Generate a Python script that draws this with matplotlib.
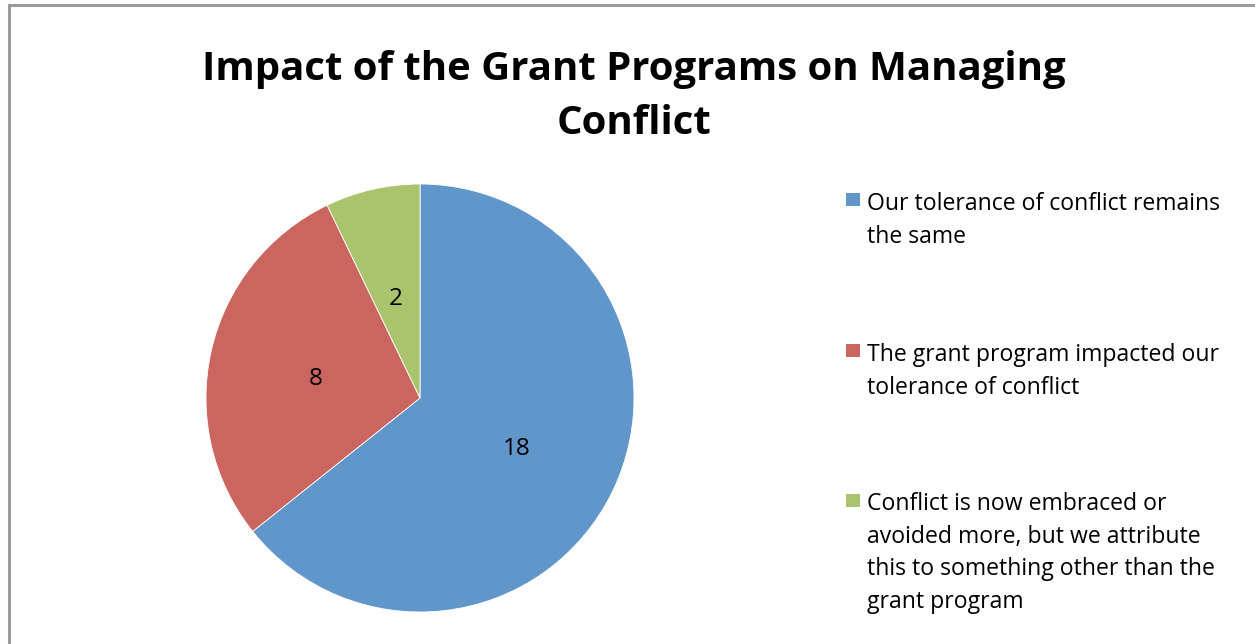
import textwrap
import matplotlib
matplotlib.use("Agg")
import matplotlib.pyplot as plt
import matplotlib.transforms as mtransforms
from matplotlib.patches import Rectangle
from matplotlib.lines import Line2D

# Survey responses
categories = [
    "Our tolerance of conflict remains the same",
    "The grant program impacted our tolerance of conflict",
    "Conflict is now embraced or avoided more, but we attribute this to something other than the grant program",
]
counts = [18, 8, 2]
colors = ["#6096CA", "#CB6560", "#A9C46C"]
title = "Impact of the Grant Programs on Managing\nConflict"

W, H = 1255, 644
fig = plt.figure(figsize=(W / 100, H / 100), dpi=100)
fig.patch.set_facecolor("white")

FONT = "Open Sans"

# chart frame (left and top edges visible)
fig.add_artist(Line2D([9 / W, 9 / W], [0, 1 - 5 / H], transform=fig.transFigure,
                      color="#9a9a9a", lw=2.2))
fig.add_artist(Line2D([9 / W, 1], [1 - 5 / H, 1 - 5 / H], transform=fig.transFigure,
                      color="#9a9a9a", lw=2.2))

# title
fig.text(634 / W, 1 - 96.5 / H, title, ha="center", va="center", fontsize=28.9,
         fontweight="bold", family=FONT, linespacing=1.53, color="black")

# pie
cx, cy, r = 420, 398, 214
ax = fig.add_axes([(cx - r) / W, (H - cy - r) / H, 2 * r / W, 2 * r / H])
wedges, texts, autotexts = ax.pie(counts, colors=colors, startangle=90, counterclock=False,
                                  radius=1, autopct="%1.0f", pctdistance=0.5,
                                  wedgeprops=dict(linewidth=0.6, edgecolor="white"),
                                  textprops=dict(fontsize=17.5, family=FONT, color="black"))
# centre the digits (not the text box) on the label point
shift = mtransforms.offset_copy(ax.transData, fig=fig, x=0, y=-5, units="dots")
for t, v in zip(autotexts, counts):
    t.set_text(str(v))
    t.set_transform(shift)
ax.set_xlim(-1, 1)
ax.set_ylim(-1, 1)
ax.set_aspect("equal")
ax.axis("off")

# legend: square beside the first line of each wrapped label
LINE = 32
leg_base = [211, 362, 512]
for lab, col, yb in zip(categories, colors, leg_base):
    wrapped = textwrap.fill(lab, 33)
    n = wrapped.count("\n") + 1
    fig.add_artist(Rectangle((846 / W, 1 - (yb - 5) / H), 14 / W, 13 / H,
                             transform=fig.transFigure, facecolor=col, edgecolor="none"))
    fig.text(867 / W, 1 - (yb + LINE * (n - 1)) / H, wrapped, ha="left", va="baseline",
             fontsize=16.6, family=FONT, linespacing=1.475, color="black")

fig.savefig("out.png", dpi=100)
